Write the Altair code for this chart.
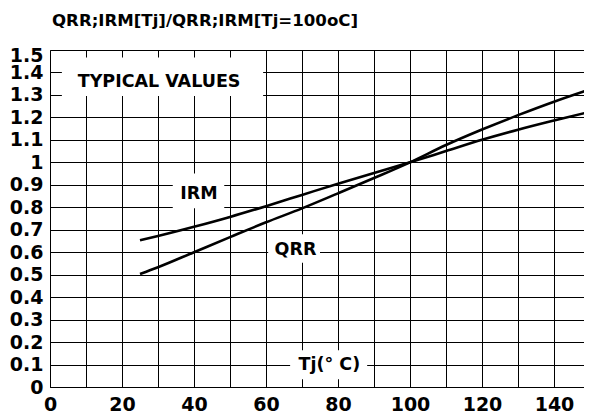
import altair as alt
import pandas as pd

# Curve data
temps = [25, 30, 40, 50, 60, 70, 80, 90, 100, 110, 120, 130, 140, 150]
irm = [0.653, 0.672, 0.713, 0.757, 0.805, 0.855, 0.905, 0.953, 1.0, 1.05, 1.10, 1.145, 1.186, 1.225]
qrr = [0.503, 0.533, 0.600, 0.667, 0.733, 0.795, 0.862, 0.930, 1.0, 1.077, 1.146, 1.21, 1.27, 1.325]

# Annotation labels
label_texts = ["TYPICAL VALUES", "IRM", "QRR", "Tj(° C)"]
label_x = [30.3, 41.4, 68.2, 77.6]
label_y = [1.357, 0.86, 0.612, 0.10]
box_x1 = [3.3, 34.1, 60.6, 66.7]
box_x2 = [59.2, 48.4, 75.0, 88.1]
box_y1 = [1.295, 0.796, 0.553, 0.034]
box_y2 = [1.467, 0.95, 0.68, 0.164]

x_grid = list(range(0, 150, 10))
y_grid = [round(i * 0.1, 1) for i in range(0, 16)]

curves = pd.DataFrame({
    "Tj": temps * 2,
    "v": irm + qrr,
    "series": ["IRM"] * len(temps) + ["QRR"] * len(temps),
})
labels = pd.DataFrame({
    "text": label_texts, "x": label_x, "y": label_y,
    "x1": box_x1, "x2": box_x2, "y1": box_y1, "y2": box_y2,
})

FONT = "DejaVu Sans"

# the reference's plot runs past the window edge; show 0..148.3 at the same scale
xscale = alt.Scale(domain=[0, 148.33], nice=False, zero=False)
yscale = alt.Scale(domain=[0, 1.5], nice=False)

xaxis = alt.Axis(
    values=x_grid, title=None, grid=True, gridColor="black", gridOpacity=1, gridWidth=1,
    domainColor="black", domainWidth=1, ticks=False, labelPadding=8, labelFlush=False,
    labelFont=FONT, labelFontSize=19, labelFontWeight="bold", labelColor="black",
    labelExpr="datum.value % 20 == 0 ? datum.label : ''", labelOverlap=False,
)
yaxis = alt.Axis(
    values=y_grid, title=None, grid=True, gridColor="black", gridOpacity=1, gridWidth=1,
    domainColor="black", domainWidth=1, ticks=False, labelPadding=7, labelFlush=False,
    labelFont=FONT, labelFontSize=19, labelFontWeight="bold", labelColor="black",
    labelExpr="round(datum.value * 10) / 10 + ''", labelOverlap=False,
    labelOffset={"condition": {"test": "datum.value >= 1.45", "value": 5}, "value": 0},
)

lines = alt.Chart(curves).mark_line(
    color="black", strokeWidth=2.6, interpolate="monotone", clip=True
).encode(
    x=alt.X("Tj:Q", scale=xscale, axis=xaxis),
    y=alt.Y("v:Q", scale=yscale, axis=yaxis),
    detail="series:N",
)

boxes = alt.Chart(labels).mark_rect(color="white").encode(
    x=alt.X("x1:Q", scale=xscale, axis=xaxis), x2="x2:Q",
    y=alt.Y("y1:Q", scale=yscale, axis=yaxis), y2="y2:Q",
)

texts = alt.Chart(labels).mark_text(
    font=FONT, fontSize=17.5, fontWeight="bold", color="black", align="center", baseline="middle"
).encode(
    x=alt.X("x:Q", scale=xscale, axis=xaxis),
    y=alt.Y("y:Q", scale=yscale, axis=yaxis),
    text="text:N",
)

chart = alt.layer(lines, boxes, texts).properties(
    width=534, height=337,
    padding={"left": 42, "top": 42, "right": 0, "bottom": 26},
    autosize=alt.AutoSizeParams(type="none"),
    title=alt.TitleParams(
        text="QRR;IRM[Tj]/QRR;IRM[Tj=100oC]", anchor="start", frame="group", font=FONT,
        fontSize=16.6, fontWeight="bold", color="black", offset=16, dx=2,
    ),
).configure_view(stroke=None).configure(background="white")

chart.save("out.html", embed_options={"renderer": "svg", "actions": False})
